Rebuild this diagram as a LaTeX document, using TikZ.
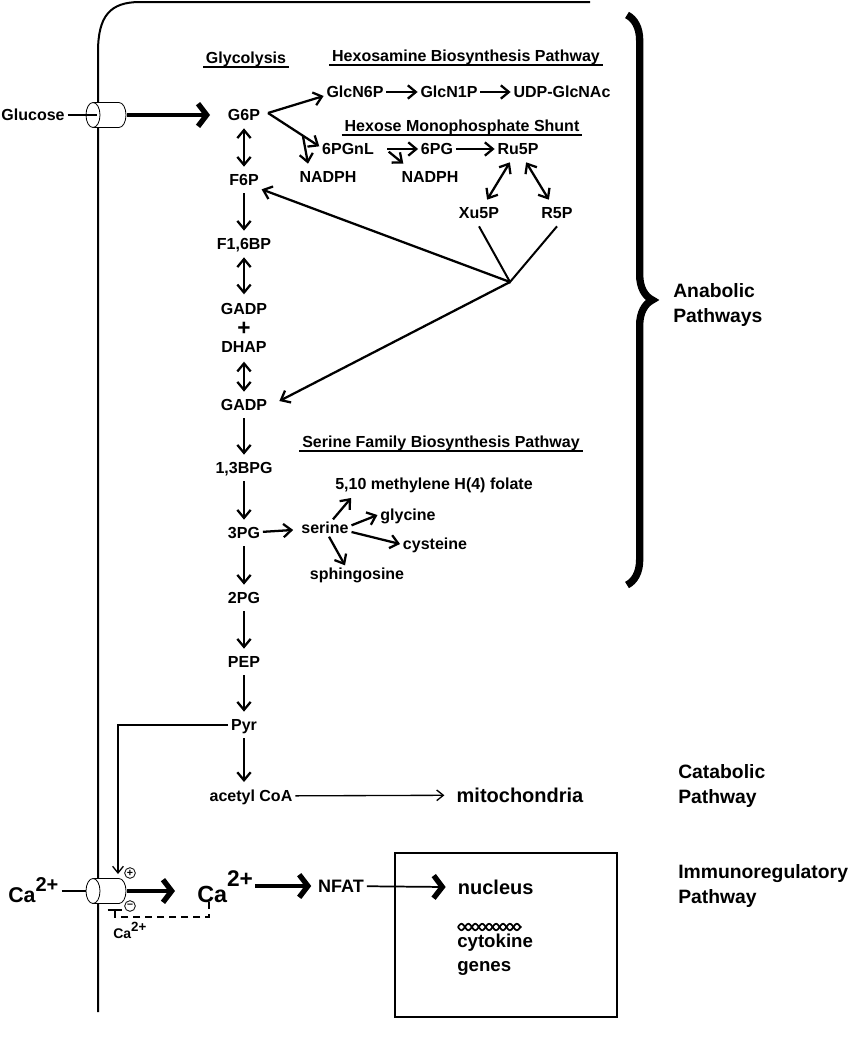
\documentclass[tikz,border=0pt]{standalone}
\usepackage{fontspec}
\setmainfont{Liberation Sans}
\usetikzlibrary{arrows.meta,decorations.pathreplacing,calc}

\begin{document}
\begin{tikzpicture}[x=0.75pt,y=-0.75pt,
	lbl/.style={font=\fontsize{12}{14}\selectfont\bfseries, inner xsep=2pt, inner ysep=5.5pt, text height=8.6pt, text depth=0pt},
	ttl/.style={font=\fontsize{12}{14}\selectfont\bfseries, inner xsep=2pt, inner ysep=1pt, text height=8.6pt, text depth=2pt, anchor=base},
	sml/.style={font=\fontsize{12}{14}\selectfont\bfseries, inner sep=2pt, text height=8.6pt, text depth=0pt},
	side/.style={font=\fontsize{14.5}{18.75}\selectfont\bfseries, align=left, anchor=west, inner sep=0pt},
	arr/.style={line width=1.7pt, -{Straight Barb[length=6pt,width=10pt]}},
	dbl/.style={line width=1.7pt, {Straight Barb[length=6pt,width=10pt]}-{Straight Barb[length=6pt,width=10pt]}},
	fine/.style={line width=1pt, -{Straight Barb[length=5pt,width=8pt]}},
	chev/.style={line width=2.4pt, -{Straight Barb[length=6.5pt,width=17pt,line width=4pt]}},
	uline/.style={line width=1.5pt},
	mem/.style={line width=1.5pt},
	chan/.style={line width=0.6pt, fill=white},
	sign/.style={circle, draw, line width=0.6pt, inner sep=0pt, minimum size=8pt, font=\fontsize{8}{8}\selectfont\bfseries}]
	\useasboundingbox (0,0) rectangle (855,1050);
	\draw[mem] (98,1012) -- (98,52) .. controls (98,16) and (110,2) .. (140,2) -- (590,2);
	\draw[line width=5.5pt, decorate, decoration={brace, amplitude=19pt}] (627,15) -- (627,585);

	\node[lbl] (glc) at (33,115) {Glucose};
	\coordinate (glutin) at (97,115);
	\coordinate (glutout) at (127,115);
	\filldraw[chan] (93,102.5) -- (119,102.5) arc[start angle=-90, end angle=90, x radius=7, y radius=12.5] -- (93,127.5) -- cycle;
	\filldraw[chan] (93,115) ellipse [x radius=7, y radius=12.5];
	\draw[mem] (glc) -- (glutin);

	\node[ttl] (glyc) at (246,63) {Glycolysis};
	\node[lbl] (g6p) at (244,115) {G6P};
	\node[lbl] (f6p) at (244,180) {F6P};
	\node[lbl] (f16bp) at (244,244) {F1,6BP};
	\node[lbl, inner ysep=2pt] (gadpa) at (244,309) {GADP};
	\node[font=\fontsize{17}{17}\selectfont\bfseries, inner sep=0pt, text height=8pt, text depth=0pt] (plus) at (244,330) {+};
	\node[lbl, inner ysep=2pt] (dhap) at (244,347) {DHAP};
	\node[lbl] (gadpb) at (244,405) {GADP};
	\node[lbl] (bpg) at (244,468) {1,3BPG};
	\node[lbl] (pg3) at (244,533) {3PG};
	\node[lbl] (pg2) at (244,598) {2PG};
	\node[lbl] (pep) at (244,662) {PEP};
	\node[lbl] (pyr) at (244,725) {Pyr};
	\node[sml] (acoa) at (251,796) {acetyl CoA};
	\node[font=\fontsize{15}{15}\selectfont\bfseries, inner sep=2pt] (mito) at (520,795) {mitochondria};
	\draw[uline] (glyc.south west) -- (glyc.south east);
	\draw[chev] (glutout) -- ($(g6p.west)+(-15,0)$);
	\draw[dbl] (g6p) -- (f6p);
	\draw[arr] (f6p) -- (f16bp);
	\draw[dbl, shorten >=4.5pt] (f16bp) -- (gadpa);
	\draw[dbl, shorten <=4.5pt] (dhap) -- (gadpb);
	\draw[arr] (gadpb) -- (bpg);
	\draw[arr] (bpg) -- (pg3);
	\draw[arr] (pg3) -- (pg2);
	\draw[arr] (pg2) -- (pep);
	\draw[arr] (pep) -- (pyr);
	\draw[arr, shorten >=4pt] (pyr) -- (pyr |- acoa.north);
	\draw[fine, shorten >=7pt] (acoa) -- (mito);

	\node[ttl] (hbp) at (466,61) {Hexosamine Biosynthesis Pathway};
	\node[lbl] (glcn6p) at (355,92) {GlcN6P};
	\node[lbl] (glcn1p) at (449,92) {GlcN1P};
	\node[lbl] (udp) at (562,92) {UDP-GlcNAc};
	\draw[uline] (hbp.south west) -- (hbp.south east);
	\draw[arr] (glcn6p) -- (glcn1p);
	\draw[arr] (glcn1p) -- (udp);

	\node[ttl] (hmp) at (462,131) {Hexose Monophosphate Shunt};
	\node[lbl] (pgnl) at (348,149) {6PGnL};
	\node[lbl] (pg6) at (437,149) {6PG};
	\node[lbl] (ru5p) at (518,149) {Ru5P};
	\node[lbl] (nadpha) at (328,177) {NADPH};
	\node[lbl] (nadphb) at (430,177) {NADPH};
	\node[lbl] (xu5p) at (479,213) {Xu5P};
	\node[lbl] (r5p) at (557,213) {R5P};
	\draw[uline] (hmp.south west) -- (hmp.south east);
	\coordinate (fork) at (268,113);
	\draw[arr] (fork) -- ([yshift=-3pt]glcn6p.west);
	\draw[arr] (fork) -- ([yshift=2pt]pgnl.west);
	\draw[arr] ($(fork)!0.68!([yshift=2pt]pgnl.west)$) -- ([xshift=-15pt]nadpha.north);
	\draw[arr, shorten <=8pt] (pgnl) -- (pg6);
	\draw[arr] ([xshift=9pt,yshift=-2pt]pgnl.east) -- ([xshift=-20pt]nadphb.north);
	\draw[arr] (pg6) -- (ru5p);
	\draw[dbl] (ru5p) -- (xu5p);
	\draw[dbl] (ru5p) -- (r5p);
	\coordinate (hub) at (510,282);
	\draw[mem] (xu5p.south) -- (hub) -- (r5p.south);
	\draw[arr] (hub) -- ([yshift=-7pt]f6p.east);
	\draw[arr] (hub) -- ([xshift=7pt,yshift=3pt]gadpb.east);

	\node[ttl] (sfb) at (441,447) {Serine Family Biosynthesis Pathway};
	\node[sml] (folate) at (434,484) {5,10 methylene H(4) folate};
	\node[sml] (serine) at (325,528) {serine};
	\node[sml] (glycine) at (408,515) {glycine};
	\node[sml] (cysteine) at (435,544) {cysteine};
	\node[sml] (sphing) at (357,574) {sphingosine};
	\draw[uline] (sfb.south west) -- (sfb.south east);
	\draw[arr, shorten >=4pt] (pg3) -- (serine);
	\draw[arr] ([xshift=6pt]serine.north) -- ([xshift=14pt,yshift=-4pt]folate.south west);
	\draw[arr] ([yshift=2pt]serine.east) -- (glycine.west);
	\draw[arr] ([yshift=-3pt]serine.east) -- (cysteine.west);
	\draw[arr] ([xshift=3pt]serine.south) -- ([xshift=-9pt]sphing.north);

	\node[font=\fontsize{16}{16}\selectfont\bfseries, anchor=base west, inner sep=0pt] (caout) at (8,902) {Ca\raisebox{8pt}{\fontsize{15}{15}\selectfont 2+}};
	\coordinate (chanin) at (93,891);
	\coordinate (chanout) at (127,891);
	\coordinate (chantop) at (118,874);
	\coordinate (inhib) at (115,909);
	\draw[mem] ($(caout.east |- chanin)+(3,0)$) -- (chanin);
	\filldraw[chan] (93,878.5) -- (119,878.5) arc[start angle=-90, end angle=90, x radius=7, y radius=12.5] -- (93,903.5) -- cycle;
	\filldraw[chan] (93,891) ellipse [x radius=7, y radius=12.5];
	\node[sign] (plus1) at (130,873) {+};
	\node[sign] (minus1) at (130,906) {--};
	\draw[fine] (pyr.west) -| (chantop);
	\node[font=\fontsize{17.5}{17.5}\selectfont\bfseries, anchor=base west, inner sep=0pt] (camid) at (197,902) {Ca\raisebox{12pt}{\fontsize{17}{17}\selectfont 2+}};
	\node[font=\fontsize{10.5}{10.5}\selectfont\bfseries, anchor=base west, inner sep=0pt] (casml) at (113,938) {Ca\raisebox{5pt}{\fontsize{10}{10}\selectfont 2+}};
	\draw[chev] (chanout) -- ($(camid.west |- chanout)+(-22,0)$);
	\draw[line width=1.3pt, dash pattern=on 5pt off 4pt, -{Bar[width=11pt,line width=1.8pt]}] ([xshift=9pt]camid.base west) -- ++(0,15) -| (inhib);

	\node[font=\fontsize{13.5}{15}\selectfont\bfseries, inner sep=2pt] (nfat) at (341,886) {NFAT};
	\draw[line width=3pt, -{Straight Barb[length=6.5pt,width=17pt,line width=4pt]}] ($(camid.east |- nfat)+(2,0)$) -- ($(nfat.west)+(-4,0)$);
	\draw[line width=1.2pt] (395,853) rectangle (617,1017);
	\node[font=\fontsize{15}{15}\selectfont\bfseries, anchor=west, inner sep=2pt] (nuc) at (455,887) {nucleus};
	\draw[line width=1.3pt, -{Straight Barb[length=6.5pt,width=17pt,line width=4pt]}] (nfat) -- ([xshift=-7pt]nuc.west);
	\draw[line width=1.3pt] plot[domain=0:63, samples=90, smooth] ({458+\x}, {927+3.2*sin(\x*26)});
	\draw[line width=1.3pt] plot[domain=0:63, samples=90, smooth] ({458+\x}, {927-3.2*sin(\x*26)});
	\node[font=\fontsize{14}{18}\selectfont\bfseries, align=left, anchor=north west, inner sep=0pt] (cyto) at (457,934) {cytokine\\genes};

	\node[side] (anab) at (673,305) {Anabolic\\Pathways};
	\node[side] (catab) at (678,786) {Catabolic\\Pathway};
	\node[side] (immun) at (678,886) {Immunoregulatory\\Pathway};
\end{tikzpicture}
\end{document}
